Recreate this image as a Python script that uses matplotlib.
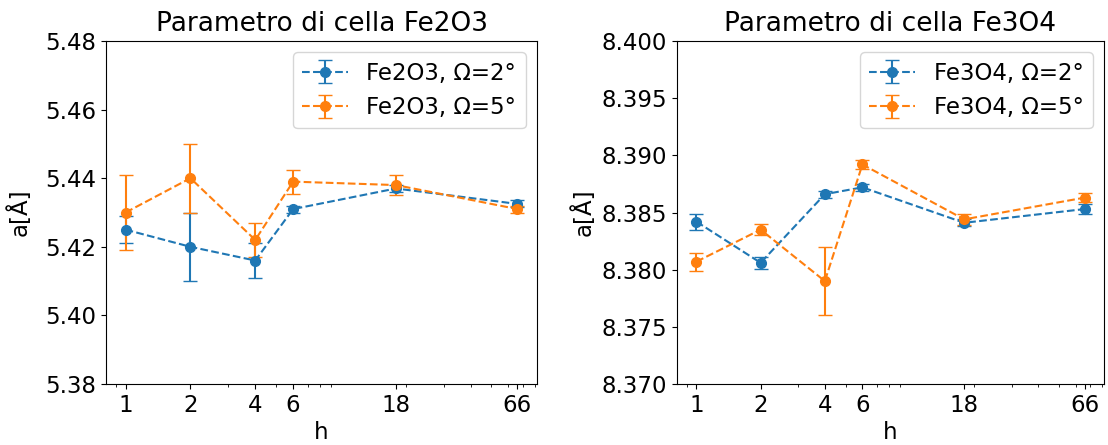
import matplotlib
matplotlib.use("Agg")
import matplotlib.pyplot as plt
from matplotlib.ticker import NullFormatter

h = [1, 2, 4, 6, 18, 66]
h_labels = ["1", "2", "4", "6", "18", "66"]

fe2o3_w2 = [5.425, 5.420, 5.416, 5.431, 5.437, 5.4325]
fe2o3_w2_err = [0.004, 0.010, 0.005, 0.001, 0.001, 0.001]
fe2o3_w5 = [5.430, 5.440, 5.422, 5.439, 5.438, 5.431]
fe2o3_w5_err = [0.011, 0.010, 0.005, 0.0035, 0.0028, 0.001]

fe3o4_w2 = [8.3842, 8.3806, 8.3866, 8.3872, 8.3841, 8.3853]
fe3o4_w2_err = [0.0007, 0.0005, 0.0003, 0.0003, 0.0003, 0.0004]
fe3o4_w5 = [8.3807, 8.3835, 8.3790, 8.3892, 8.3844, 8.3863]
fe3o4_w5_err = [0.0008, 0.0005, 0.0030, 0.0004, 0.0005, 0.0004]

W, H = 1108, 445
fig = plt.figure(figsize=(W / 100, H / 100), dpi=100)
ax1 = fig.add_axes([106 / W, (H - 384) / H, 431 / W, 343 / H])
ax2 = fig.add_axes([677 / W, (H - 384) / H, 427 / W, 343 / H])

fs = 16.5

def draw(ax, s1, e1, s2, e2, name, ylim, title, ypad):
    ax.errorbar(h, s1, yerr=e1, fmt='o--', capsize=5, markersize=7,
                color='#1f77b4', label=f"{name}, Ω=2°")
    ax.errorbar(h, s2, yerr=e2, fmt='o--', capsize=5, markersize=7,
                color='#ff7f0e', label=f"{name}, Ω=5°")
    ax.set_xscale('log')
    ax.set_xticks(h)
    ax.set_xticklabels(h_labels)
    ax.xaxis.set_minor_formatter(NullFormatter())
    ax.set_ylim(*ylim)
    ax.set_xlabel("h", fontsize=fs, labelpad=3)
    ax.set_ylabel("a[Å]", fontsize=fs, labelpad=ypad)
    ax.set_title(title, fontsize=19, pad=7)
    ax.tick_params(labelsize=fs)
    ax.legend(loc='upper right', fontsize=fs)

draw(ax1, fe2o3_w2, fe2o3_w2_err, fe2o3_w5, fe2o3_w5_err, "Fe2O3",
     (5.38, 5.48), "Parametro di cella Fe2O3", 10)
draw(ax2, fe3o4_w2, fe3o4_w2_err, fe3o4_w5, fe3o4_w5_err, "Fe3O4",
     (8.370, 8.400), "Parametro di cella Fe3O4", 4)

fig.savefig("out.png", dpi=100)
